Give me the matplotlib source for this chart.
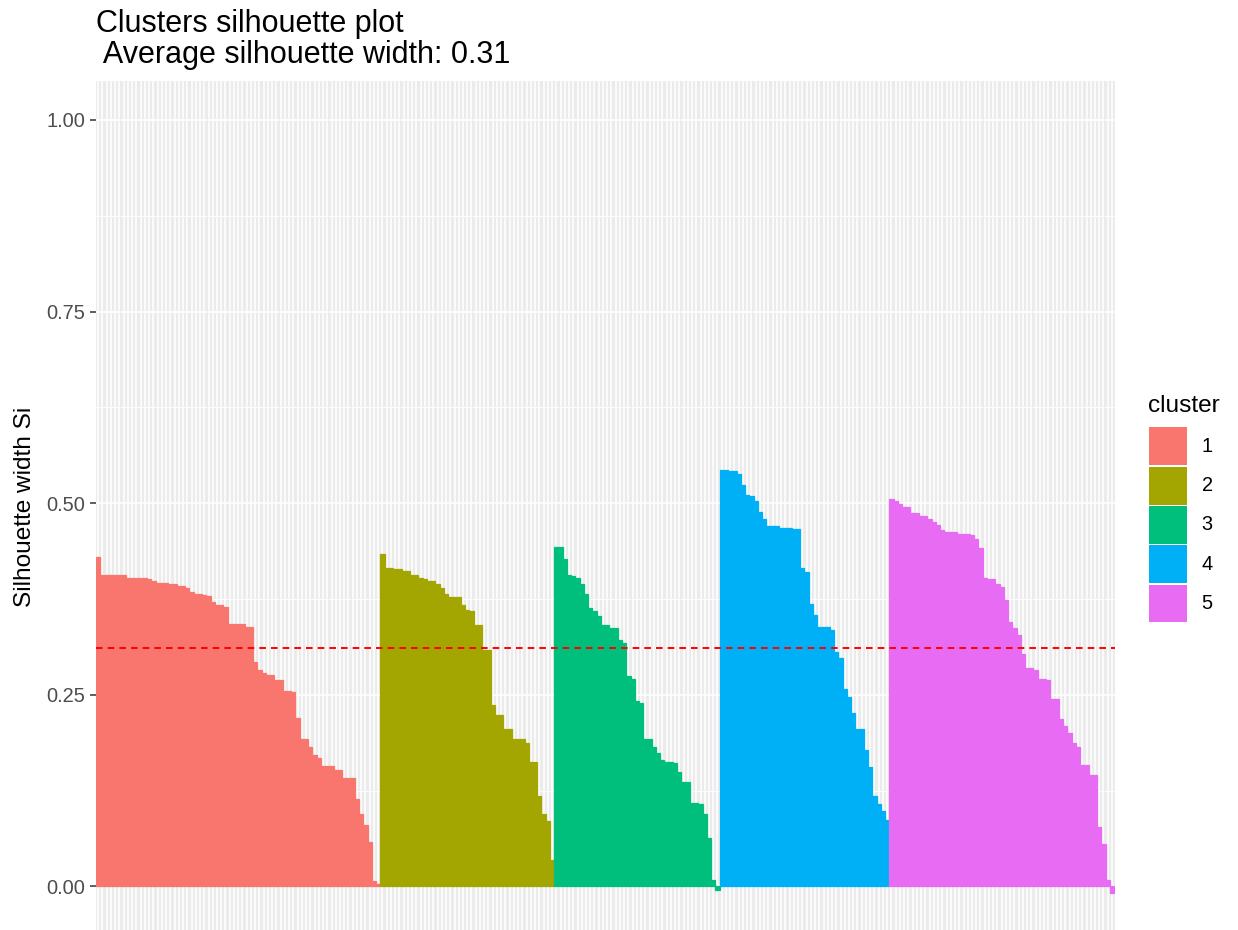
import matplotlib
matplotlib.use("Agg")
import matplotlib.pyplot as plt
from matplotlib.patches import Rectangle
from matplotlib.ticker import FixedLocator
import numpy as np

plt.rcParams['font.family'] = ['Liberation Sans', 'DejaVu Sans']

# Silhouette widths per cluster, sorted within each cluster
sil_1 = [0.430,
         0.407, 0.407, 0.407, 0.407, 0.407, 0.406,
         0.403, 0.403, 0.403, 0.403, 0.403, 0.401, 0.398,
         0.396, 0.396, 0.396, 0.394, 0.394, 0.392, 0.392,
         0.389, 0.384, 0.382, 0.382, 0.380, 0.379, 0.371,
         0.367, 0.367, 0.365, 0.343, 0.343, 0.343, 0.343,
         0.338, 0.338, 0.293, 0.282, 0.278, 0.276, 0.276,
         0.269, 0.269, 0.255, 0.255, 0.254, 0.220, 0.192, 0.192,
         0.182, 0.171, 0.167, 0.157, 0.157, 0.157, 0.152, 0.152,
         0.142, 0.142, 0.142, 0.114, 0.094, 0.080, 0.058, 0.007, 0.003]
sil_2 = [0.434, 0.416, 0.416, 0.414, 0.414, 0.412, 0.412,
         0.407, 0.406, 0.403, 0.401, 0.399, 0.399, 0.394,
         0.389, 0.381, 0.378, 0.378, 0.378, 0.367, 0.361, 0.359,
         0.341, 0.341, 0.308, 0.308, 0.237, 0.224, 0.224,
         0.205, 0.205, 0.192, 0.192, 0.192, 0.187, 0.163, 0.163,
         0.118, 0.095, 0.085, 0.034]
sil_3 = [0.443, 0.443, 0.427, 0.407, 0.405, 0.403, 0.394,
         0.381, 0.363, 0.359, 0.353, 0.341, 0.341, 0.337, 0.337,
         0.321, 0.318, 0.275, 0.271, 0.242, 0.240, 0.192, 0.192,
         0.182, 0.174, 0.165, 0.163, 0.163, 0.161, 0.150,
         0.136, 0.136, 0.109, 0.109, 0.107, 0.095, 0.063, 0.009, -0.004]
sil_4 = [0.543, 0.543, 0.542, 0.542, 0.538, 0.524, 0.511, 0.510,
         0.503, 0.488, 0.479, 0.470, 0.470, 0.470, 0.468, 0.468, 0.468,
         0.466, 0.466, 0.416, 0.410, 0.368, 0.354, 0.339, 0.339, 0.339,
         0.334, 0.306, 0.298, 0.258, 0.247, 0.227, 0.205, 0.205,
         0.178, 0.156, 0.118, 0.107, 0.098, 0.087]
sil_5 = [0.505, 0.503, 0.499, 0.495, 0.495, 0.487, 0.487, 0.483, 0.483,
         0.480, 0.476, 0.471, 0.465, 0.463, 0.463, 0.463,
         0.460, 0.460, 0.460, 0.458, 0.454, 0.442, 0.403, 0.401, 0.401,
         0.394, 0.391, 0.374, 0.345, 0.337, 0.328, 0.303,
         0.285, 0.285, 0.283, 0.271, 0.271, 0.269, 0.245, 0.245,
         0.218, 0.209, 0.200, 0.187, 0.182, 0.158, 0.158,
         0.145, 0.145, 0.078, 0.056, 0.009, -0.008]

clusters = ['1', '2', '3', '4', '5']
colors = ['#F8766D', '#A3A500', '#00BF7D', '#00B0F6', '#E76BF3']
widths = [sil_1, sil_2, sil_3, sil_4, sil_5]

all_sil = np.concatenate([np.array(s) for s in widths])
n = len(all_sil)
avg = all_sil.mean()

W, H = 1238, 930
fig = plt.figure(figsize=(W / 100, H / 100), dpi=100)
fig.patch.set_facecolor('white')

ylo, yhi = -0.0584, 1.0504
px_per_unit = 766.5
ax_top = 886.5 - yhi * px_per_unit
ax_h = (yhi - ylo) * px_per_unit
ax_left, ax_right = 95.7, 1114.5
ax = fig.add_axes([ax_left / W, 1 - (ax_top + ax_h) / H,
                   (ax_right - ax_left) / W, ax_h / H])
ax.set_facecolor('#EBEBEB')

start = 0
for lab, col, s in zip(clusters, colors, widths):
    x = np.arange(start, start + len(s))
    ax.bar(x, s, width=1.0, color=col, edgecolor=col, linewidth=0.9, zorder=2)
    start += len(s)

ax.axhline(avg, color='red', linewidth=1.4, linestyle=(0, (3.4, 2.6)), zorder=3)

ax.set_xlim(-0.6, n - 0.4)
ax.set_ylim(ylo, yhi)

# grid: one vertical line per observation, major/minor horizontal lines
ax.set_xticks(np.arange(n))
ax.set_yticks([0, 0.25, 0.5, 0.75, 1.0])
ax.set_yticklabels(['0.00', '0.25', '0.50', '0.75', '1.00'])
ax.yaxis.set_minor_locator(FixedLocator([0.125, 0.375, 0.625, 0.875]))
ax.grid(which='major', color='white', linewidth=1.1, zorder=0)
ax.grid(which='minor', axis='y', color='white', linewidth=0.6, zorder=0)
ax.set_axisbelow(True)

ax.tick_params(axis='x', which='both', length=0, labelbottom=False)
ax.tick_params(axis='y', which='major', length=4.4, width=1.1, color='#333333',
               labelcolor='#4D4D4D', labelsize=14.4, pad=3.3)
ax.tick_params(axis='y', which='minor', length=0)
for sp in ax.spines.values():
    sp.set_visible(False)

fig.text(25 / W, 1 - 507 / H, 'Silhouette width Si', rotation=90,
         ha='center', va='center', fontsize=17.6, color='black')

# title, two lines
fig.text(ax_left / W, 1 - 31.7 / H, 'Clusters silhouette plot ',
         ha='left', va='baseline', fontsize=22, color='black')
fig.text(ax_left / W, 1 - 63.3 / H, f' Average silhouette width: {avg:.2f}',
         ha='left', va='baseline', fontsize=22, color='black')

# legend drawn by hand
fig.text(1148.3 / W, 1 - 411.7 / H, 'cluster', ha='left', va='baseline',
         fontsize=17.6, color='black')
key_x, key_w, key_top, key_h = 1149.3, 38.0, 426.7, 39.3
for i, (lab, col) in enumerate(zip(clusters, colors)):
    top = key_top + i * key_h
    fig.add_artist(Rectangle(((key_x) / W, 1 - (top + key_h - 0.7) / H),
                             key_w / W, (key_h - 1.4) / H,
                             transform=fig.transFigure, facecolor=col,
                             edgecolor='none'))
    fig.text(1201.7 / W, 1 - (top + key_h / 2) / H, lab, ha='left', va='center',
             fontsize=14.4, color='black')

fig.savefig('out.png', dpi=100)
